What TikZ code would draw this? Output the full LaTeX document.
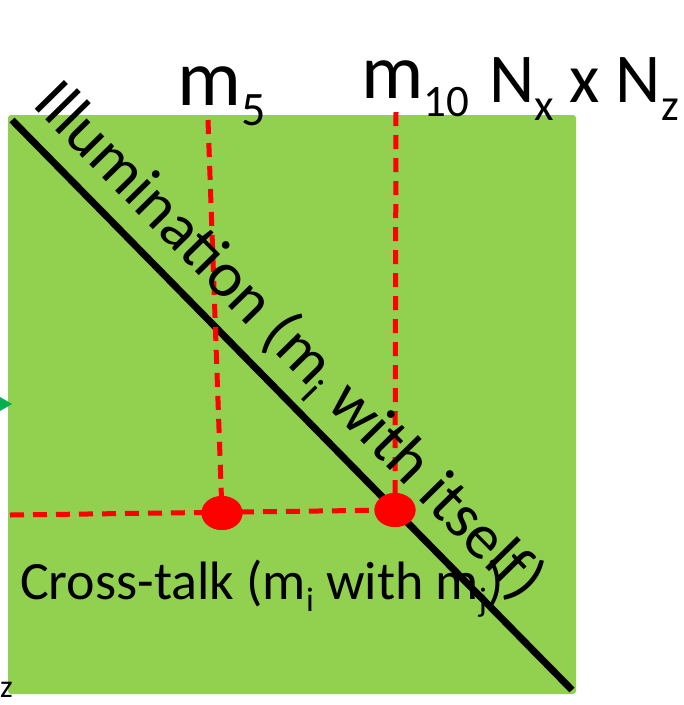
\documentclass[tikz,border=0pt]{standalone}
\usepackage{fontspec}
\setmainfont{Carlito}
\usetikzlibrary{shapes.geometric}
\definecolor{leaf}{HTML}{92D050}
\definecolor{arrowgreen}{HTML}{00B050}
\newcommand{\fs}[1]{\fontsize{#1}{#1}\selectfont}
\newcommand{\lowsub}[3]{\raisebox{-#2pt}{\fs{#1}#3}}
\begin{document}
\begin{tikzpicture}[x=1pt,y=-1pt,
  reddash/.style={draw=red,line width=5pt,dash pattern=on 14pt off 9pt},
  reddot/.style={ellipse,fill=red,draw=none,minimum width=41pt,minimum height=34pt,inner sep=0pt},
  bigtext/.style={inner sep=0pt,text=black}]
\useasboundingbox (0,0) rectangle (684,705);
\clip (0,0) rectangle (684,705);
% green field
\fill[leaf,rounded corners=3pt] (8,115) rectangle (576,694);
% green arrow tip at left edge
\fill[arrowgreen] (0,397) -- (12,404) -- (0,411) -- cycle;
% diagonal
\coordinate (b0) at (12,120);
\coordinate (b1) at (572,690);
\draw[black,line width=7pt] (b0) -- (b1);
% dots
\node[reddot] (d5) at (222,513) {};
\node[reddot] (d10) at (395,510) {};
\coordinate (t5) at (208,120);
\coordinate (t10) at (396,112);
\coordinate (h0) at (10,515);
\draw[reddash] (t5) -- (d5.center);
\draw[reddash] (t10) -- (d10.center);
\draw[reddash] (h0) -- (d10.center);
\node[reddot] at (d5) {};
\node[reddot] at (d10) {};
% labels
\node[bigtext,anchor=base west] (m5) at (177,105) {\fs{80}m\lowsub{48}{20}{5}};
\node[bigtext,anchor=base west] (m10) at (361,98) {\fs{78}m\lowsub{45}{18}{10}};
\node[bigtext,anchor=base west] (nxz) at (489,102) {\fs{70}N\lowsub{45}{18}{x} x N\lowsub{45}{18}{z}};
\node[bigtext,anchor=base west,rotate=-45.5] (illum) at (31,105)
  {\fs{64}Illumination (m\lowsub{41}{14}{i} with itself)};
\node[bigtext,anchor=base west] (cross) at (20,599)
  {\fs{54}Cross-talk (m\lowsub{34}{12}{i} with m\lowsub{34}{12}{j})};
\node[bigtext,anchor=base east] (zz) at (13,697) {\fs{32}z};
\end{tikzpicture}
\end{document}
